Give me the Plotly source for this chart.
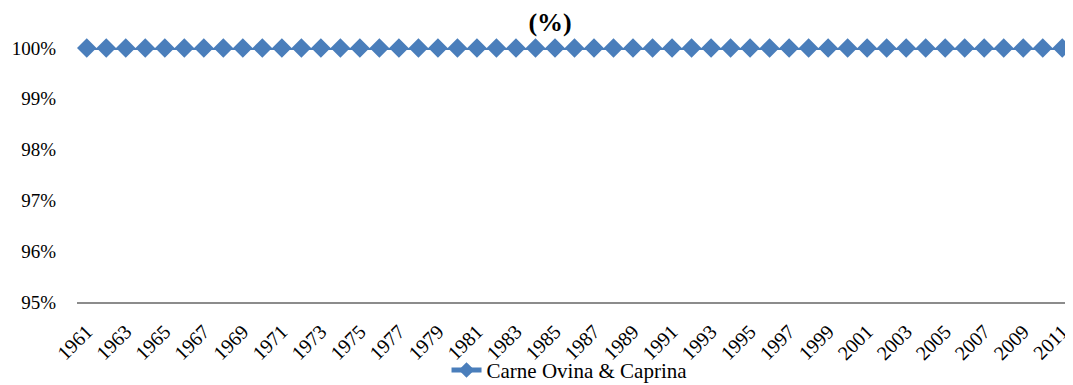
import plotly.graph_objects as go

years = list(range(1961, 2012))
share = [100] * len(years)
series_name = "Carne Ovina & Caprina"
title_text = "<b>(%)</b>"
y_ticks = [95, 96, 97, 98, 99, 100]
x_ticks = list(range(1961, 2012, 2))

fig = go.Figure()
fig.add_trace(go.Scatter(
    x=years, y=share, mode="lines+markers", name=series_name,
    line=dict(color="#4A7EBB", width=4),
    marker=dict(symbol="diamond", size=15, color="#4A7EBB"),
    cliponaxis=False,
))
fig.update_layout(
    width=1065, height=385,
    margin=dict(l=69, r=1, t=40, b=91),
    paper_bgcolor="white", plot_bgcolor="white",
    font=dict(family="Liberation Serif", size=19, color="black"),
    title=dict(text=title_text, x=0.509, xanchor="center", y=0.9636, yanchor="middle",
               font=dict(family="Liberation Serif", size=26, color="black")),
    showlegend=True,
    legend=dict(orientation="h", x=0.495, xanchor="center", y=-0.35, yanchor="bottom",
                font=dict(family="Liberation Serif", size=21), borderwidth=0,
                bgcolor="rgba(0,0,0,0)", itemsizing="constant"),
    xaxis=dict(range=[1960.5, 2011.5], tickmode="array", tickvals=x_ticks,
               ticktext=[str(v) for v in x_ticks], tickangle=-45,
               tickfont=dict(family="Liberation Serif", size=20),
               showgrid=False, zeroline=False, showline=True, automargin=False,
               linecolor="#8C8C8C", linewidth=2, ticks="", ticklabelstandoff=8),
    yaxis=dict(range=[95, 100], tickmode="array", tickvals=y_ticks,
               ticktext=[f"{v}%" for v in y_ticks], automargin=False,
               showgrid=False, zeroline=False, showline=False, ticks="",
               ticklabelstandoff=20),
)
fig.write_html("out.html")
